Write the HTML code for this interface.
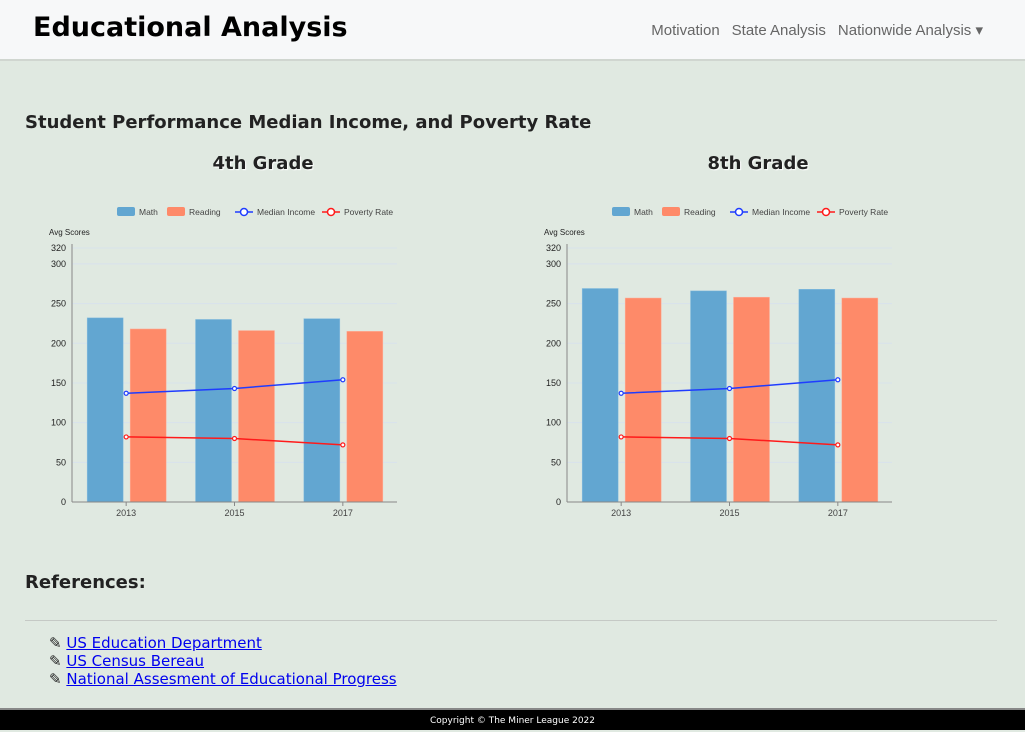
<!DOCTYPE html>
<html><head><meta charset="utf-8">
<style>
body{margin:0;width:1025px;height:730px;background:#e0e9e1;font-family:"DejaVu Sans","Liberation Sans",sans-serif;position:relative;overflow:hidden;color:#222}
.nav{position:absolute;left:0;top:0;width:1025px;height:59px;background:#f7f8f9;border-bottom:2px solid #d0d6d0}
.brand{position:absolute;left:33px;top:12px;font-size:27px;font-weight:bold;color:#000}
.links{position:absolute;right:42px;top:21px;font-size:15px;color:#666;font-family:"Liberation Sans",sans-serif}
.links span{margin-left:12px}
h2{position:absolute;left:25px;top:112px;margin:0;font-size:18px;font-weight:bold;color:#222}
.gt{position:absolute;top:153px;margin:0;font-size:18px;font-weight:bold;width:300px;text-align:center;color:#222;text-shadow:1px 1px 1px #fff}
svg{position:absolute;left:0;top:0}
.refs{position:absolute;left:25px;top:572px;font-size:18px;font-weight:bold;color:#222}
hr{position:absolute;left:25px;top:620px;width:972px;margin:0;border:0;border-top:1px solid #c5c9c5}
ul{position:absolute;left:49px;top:634px;margin:0;padding:0;list-style:none;font-size:15px;line-height:18px}
ul a{color:#00e;text-decoration:underline}
.foot{position:absolute;left:0;top:708px;width:1025px;height:22px;background:#000;border-top:2px solid #888;color:#fff;font-size:9px;text-align:center;line-height:22px;box-sizing:border-box}
</style></head><body>
<div class="nav">
<div class="brand">Educational Analysis</div>
<div class="links"><span>Motivation</span><span>State Analysis</span><span>Nationwide Analysis &#9662;</span></div>
</div>
<h2>Student Performance Median Income, and Poverty Rate</h2>
<div class="gt" style="left:113px">4th Grade</div>
<div class="gt" style="left:608px">8th Grade</div>
<svg id="c" width="1025" height="730"></svg>
<div class="refs">References:</div>
<hr>
<ul>
<li>&#9998; <a>US Education Department</a></li>
<li>&#9998; <a>US Census Bereau</a></li>
<li>&#9998; <a>National Assesment of Educational Progress</a></li>
</ul>
<div class="foot">Copyright © The Miner League 2022</div>
<script>
const categories=["2013","2015","2017"];
const yTicks=[0,50,100,150,200,250,300,320];
const math4=[232,230,231];
const reading4=[218,216,215];
const math8=[269,266,268];
const reading8=[257,258,257];
const income=[137,143,154];
const poverty=[82,80,72];
const NS="http://www.w3.org/2000/svg";
const svg=document.getElementById('c');
function mk(t,a,p){const e=document.createElementNS(NS,t);for(const k in a)e.setAttribute(k,a[k]);(p||svg).appendChild(e);return e;}
function chart(x0,name,mathV,readV){
  const x1=x0+325,yB=502,yT=248;
  const y=v=>yB-(v/320)*(yB-yT);
  const bw=(x1-x0)/categories.length;
  const cx=i=>x0+bw*(i+0.5);
  const g=mk('g',{});
  
  
  yTicks.forEach(t=>{
    const l=mk('line',{x1:x0,x2:x1,y1:y(t),y2:y(t),stroke:'#d8e2ec','stroke-width':1},g);
    
    
    const tx=mk('text',{x:x0-6,y:y(t)+3,'font-size':9,'text-anchor':'end',fill:'#222','font-family':'Liberation Sans,sans-serif'},g);
    tx.textContent=t;
    
    
  });
  const at=mk('text',{x:x0-23,y:235,'font-size':8,fill:'#222','font-family':'Liberation Sans,sans-serif'},g);
  at.textContent='Avg Scores';
  
  
  categories.forEach((c,i)=>{
    const m=mk('rect',{x:cx(i)-39,y:y(mathV[i]),width:36,height:yB-y(mathV[i]),fill:'#62a6d1',stroke:'#8cc0e0','stroke-width':0.5},g);
    
    
    const r=mk('rect',{x:cx(i)+4,y:y(readV[i]),width:36,height:yB-y(readV[i]),fill:'#fe8a69',stroke:'#ffb09a','stroke-width':0.5},g);
    
    
    mk('line',{x1:cx(i),x2:cx(i),y1:yB,y2:yB+4,stroke:'#888'},g);
    const tx=mk('text',{x:cx(i),y:yB+14,'font-size':9,'text-anchor':'middle',fill:'#444','font-family':'Liberation Sans,sans-serif'},g);
    tx.textContent=c;
    
    
  });
  [[income,'#1f3cff','median-income'],[poverty,'#ff1a1a','poverty-rate']].forEach(([d,col,n])=>{
    const pl=mk('polyline',{points:d.map((v,i)=>cx(i)+','+y(v)).join(' '),fill:'none',stroke:col,'stroke-width':1.5},g);
    
    
    d.forEach((v,i)=>{
      const p=mk('circle',{cx:cx(i),cy:y(v),r:2,fill:'#fff',stroke:col,'stroke-width':1.2},g);
      
      
    });
  });
  mk('line',{x1:x0,x2:x0,y1:yT-4,y2:yB,stroke:'#888'},g);
  mk('line',{x1:x0,x2:x1,y1:yB,y2:yB,stroke:'#888'},g);
  const lx=x0+45,ly=212;
  const items=[['Math','#62a6d1','bar'],['Reading','#fe8a69','bar'],['Median Income','#1f3cff','line'],['Poverty Rate','#ff1a1a','line']];
  const offs=[0,50,118,205];
  items.forEach((it,k)=>{
    const bx=lx+offs[k];
    if(it[2]==='bar') mk('rect',{x:bx,y:ly-5,width:18,height:9,rx:2,fill:it[1]},g);
    else{mk('line',{x1:bx,x2:bx+18,y1:ly,y2:ly,stroke:it[1],'stroke-width':1.5},g);mk('circle',{cx:bx+9,cy:ly,r:3.5,fill:'#fff',stroke:it[1],'stroke-width':1.5},g);}
    const t=mk('text',{x:bx+22,y:ly+3,'font-size':8.5,fill:'#444','font-family':'Liberation Sans,sans-serif'},g);
    t.textContent=it[0];
    
    
  });
}
chart(72,'chart-4th-grade',math4,reading4);
chart(567,'chart-8th-grade',math8,reading8);
</script>
</body></html>
